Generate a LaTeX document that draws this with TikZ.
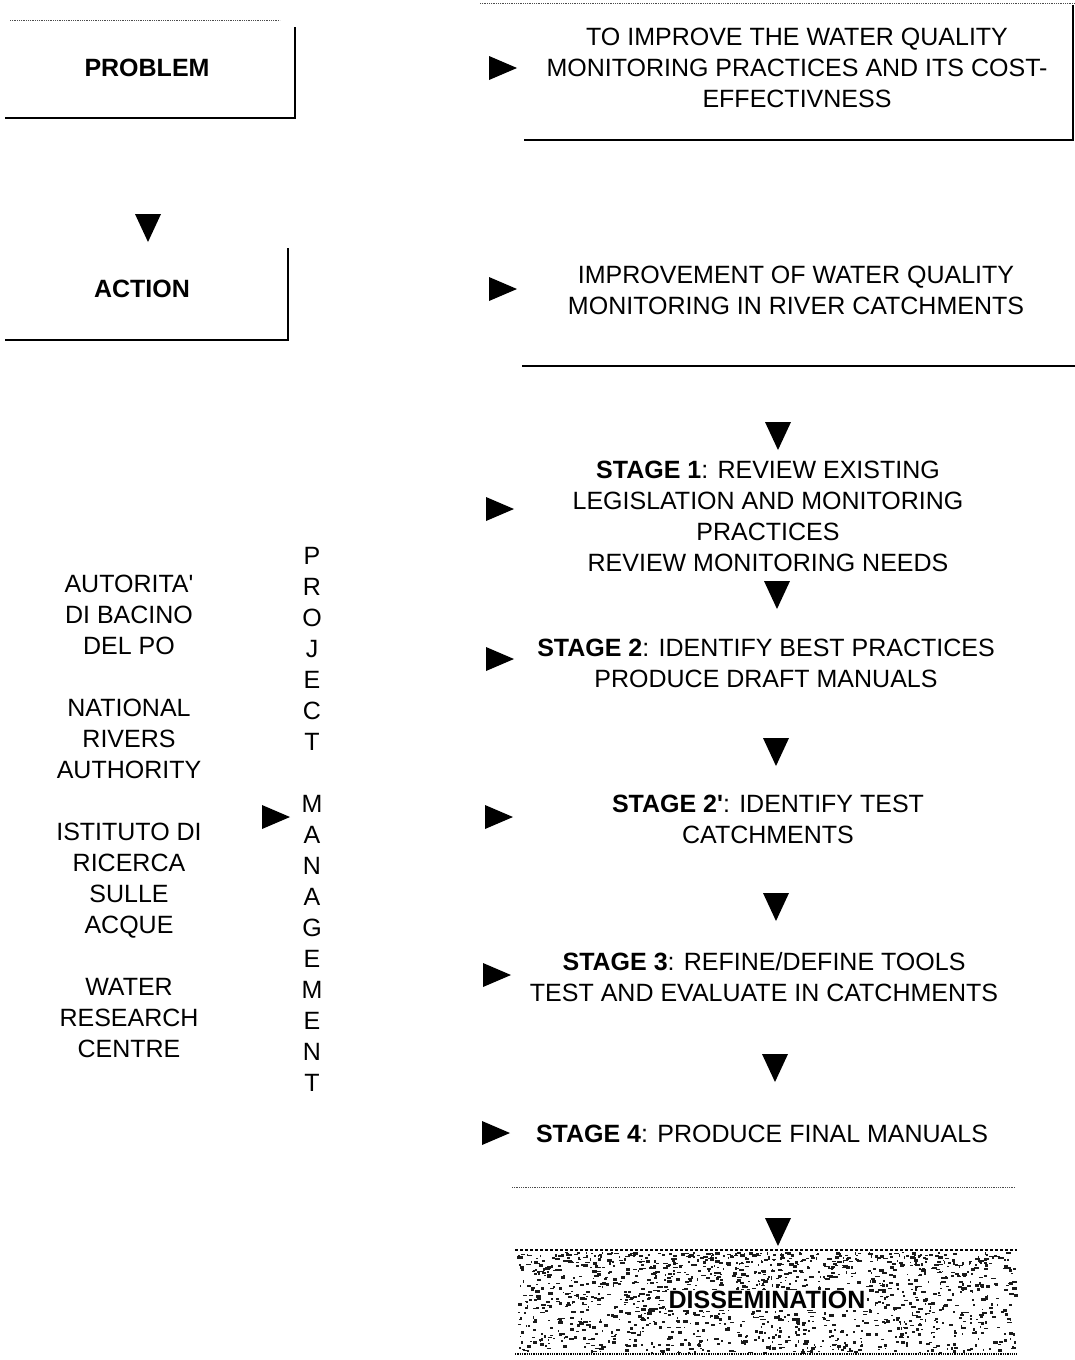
\documentclass[tikz,border=0pt]{standalone}
\usepackage{fontspec}
\setmainfont{Liberation Sans}
\begin{document}
\begin{tikzpicture}[x=1pt,y=-1pt,
  txt/.style={font=\fontsize{25}{31}\selectfont, align=center, inner sep=0pt, anchor=center},
  frame/.style={line width=2.6pt},
  faint/.style={line width=0.8pt, densely dotted, black!70},
  rtri/.style={fill=black},
  dtri/.style={fill=black}]
\useasboundingbox (0,0) rectangle (1075,1360);

% ---------- left column boxes ----------
\node[txt] (problem) at (147,68) {\textbf{PROBLEM}};
\draw[frame] (5,118) -- (295,118) -- (295,27);
\draw[faint] (10,20) -- (280,20);

\coordinate (dA) at (148,228);
\fill[dtri] (dA) +(-13,-14) -- +(13,-14) -- +(0,14) -- cycle;

\node[txt] (action) at (142,289) {\textbf{ACTION}};
\draw[frame] (5,340) -- (288,340) -- (288,248);

% ---------- right column upper boxes ----------
\node[txt] (goal) at (797,68) {TO IMPROVE THE WATER QUALITY\\MONITORING PRACTICES AND ITS COST-\\EFFECTIVNESS};
\draw[frame] (524,140) -- (1073,140) -- (1073,5);
\draw[faint] (480,3) -- (1075,3);

\node[txt] (improve) at (796,290) {IMPROVEMENT OF WATER QUALITY\\MONITORING IN RIVER CATCHMENTS};
\draw[frame] (522,366) -- (1075,366);

% ---------- stages ----------
\node[txt] (s1) at (768,516) {\textbf{STAGE 1}: REVIEW EXISTING\\LEGISLATION AND MONITORING\\PRACTICES\\REVIEW MONITORING NEEDS};
\node[txt] (s2) at (766,663) {\textbf{STAGE 2}: IDENTIFY BEST PRACTICES\\PRODUCE DRAFT MANUALS};
\node[txt] (s2b) at (768,819) {\textbf{STAGE 2\textquotesingle}: IDENTIFY TEST\\CATCHMENTS};
\node[txt] (s3) at (764,977) {\textbf{STAGE 3}: REFINE/DEFINE TOOLS\\TEST AND EVALUATE IN CATCHMENTS};
\node[txt] (s4) at (762,1134) {\textbf{STAGE 4}: PRODUCE FINAL MANUALS};
\draw[faint] (512,1187) -- (1015,1187);

% ---------- dissemination ----------
\pgfmathsetseed{7}
\foreach \i in {1,...,1500}{
  \pgfmathsetmacro{\rx}{517+498*rnd}
  \pgfmathsetmacro{\ry}{1252+100*rnd^1.3}
  \pgfmathsetmacro{\rw}{1+4*rnd}
  \pgfmathsetmacro{\rh}{1+2*rnd}
  \fill[black!90] (\rx,\ry) rectangle ++(\rw,\rh);
}
\draw[line width=1.3pt, densely dashed] (515,1250) -- (1017,1250);
\draw[line width=1.3pt, densely dotted] (515,1354) -- (1017,1354);
\node[txt, font=\fontsize{25}{31}\selectfont\bfseries, fill=white, inner sep=1.5pt] (diss) at (767,1300) {DISSEMINATION};

% ---------- partners & project management ----------
\node[txt] (partners) at (129,816) {AUTORITA\textquotesingle\\DI BACINO\\DEL PO\\[31pt]NATIONAL\\RIVERS\\AUTHORITY\\[31pt]ISTITUTO DI\\RICERCA\\SULLE\\ACQUE\\[31pt]WATER\\RESEARCH\\CENTRE};
\node[txt] (pm) at (312,819) {P\\R\\O\\J\\E\\C\\T\\[31pt]M\\A\\N\\A\\G\\E\\M\\E\\N\\T};

% ---------- right-pointing markers ----------
\foreach \n/\p in {r1/{503,68}, r2/{503,289}, r3/{500,509}, r4/{500,659}, r5/{499,817}, r6/{497,975}, r7/{496,1133}, rp/{276,817}}{
  \coordinate (\n) at (\p);
  \fill[rtri] (\n) +(-14,-12) -- +(14,0) -- +(-14,12) -- cycle;
}
% ---------- down-pointing markers ----------
\foreach \n/\p in {d1/{778,436}, d2/{777,595}, d3/{776,752}, d4/{776,907}, d5/{775,1068}, d6/{778,1232}}{
  \coordinate (\n) at (\p);
  \fill[dtri] (\n) +(-13,-14) -- +(13,-14) -- +(0,14) -- cycle;
}
\end{tikzpicture}
\end{document}
